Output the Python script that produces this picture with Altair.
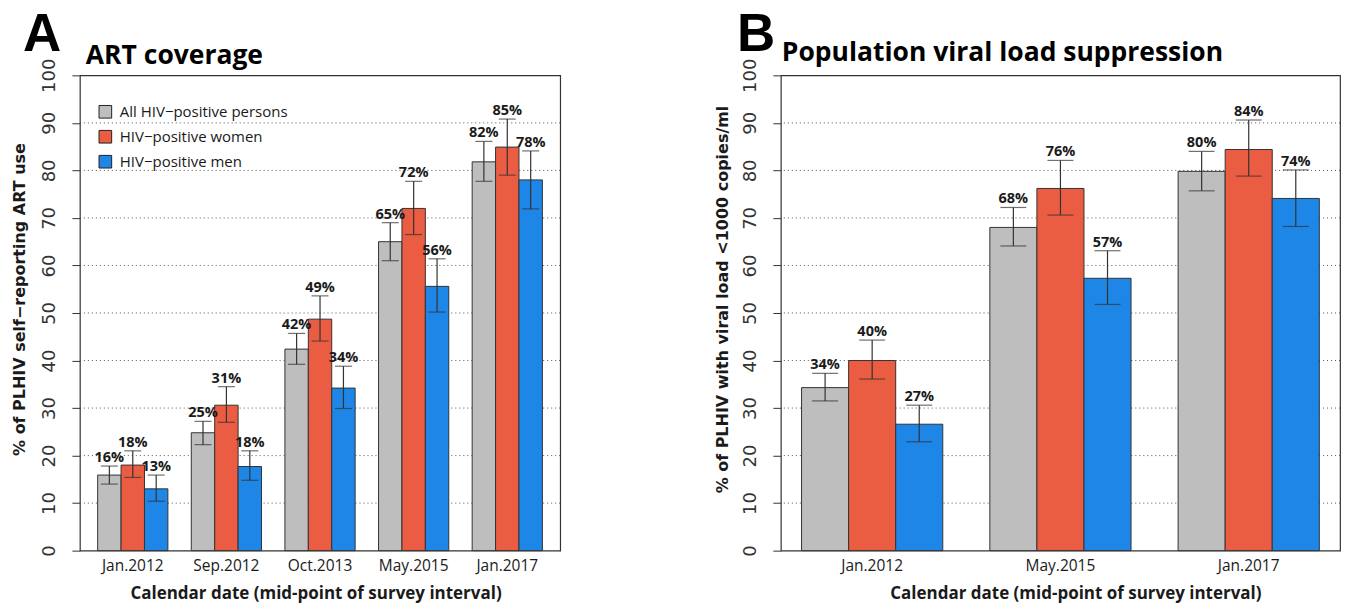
import altair as alt
import pandas as pd

SERIES = ["All HIV\u2212positive persons", "HIV\u2212positive women", "HIV\u2212positive men"]
COLORS = ["#bebebe", "#ea5d43", "#1e86e7"]
TICKS = list(range(0, 101, 10))
GRID = list(range(10, 100, 10))
XTITLE = "Calendar date (mid-point of survey interval)"

# Panel A: self-reported ART use among PLHIV
art_dates = ["Jan.2012", "Sep.2012", "Oct.2013", "May.2015", "Jan.2017"]
art_all = [15.9, 24.8, 42.4, 65.0, 81.8]
art_all_lo = [14.0, 22.3, 39.2, 61.0, 77.7]
art_all_hi = [17.8, 27.2, 45.7, 69.0, 86.1]
art_women = [18.0, 30.6, 48.7, 72.0, 84.9]
art_women_lo = [15.4, 27.0, 44.1, 66.5, 79.0]
art_women_hi = [21.0, 34.5, 53.6, 77.7, 90.8]
art_men = [13.0, 17.7, 34.2, 55.6, 78.0]
art_men_lo = [10.4, 14.8, 29.9, 50.2, 71.9]
art_men_hi = [15.9, 21.0, 38.8, 61.4, 84.1]

# Panel B: population viral load suppression
vl_dates = ["Jan.2012", "May.2015", "Jan.2017"]
vl_all = [34.3, 68.0, 79.8]
vl_all_lo = [31.5, 64.1, 75.7]
vl_all_hi = [37.3, 72.2, 84.0]
vl_women = [40.0, 76.2, 84.4]
vl_women_lo = [36.1, 70.6, 78.8]
vl_women_hi = [44.3, 82.1, 90.6]
vl_men = [26.6, 57.3, 74.1]
vl_men_lo = [22.9, 51.8, 68.2]
vl_men_hi = [30.6, 63.1, 80.1]


def frame(dates, groups):
    rows = []
    for name, (vals, lo, hi) in zip(SERIES, groups):
        for d, v, l, h in zip(dates, vals, lo, hi):
            rows.append({"date": d, "series": name, "value": v, "lo": l, "hi": h,
                         "label": f"{v:.0f}%"})
    return pd.DataFrame(rows)


art_df = frame(art_dates, [(art_all, art_all_lo, art_all_hi),
                           (art_women, art_women_lo, art_women_hi),
                           (art_men, art_men_lo, art_men_hi)])
vl_df = frame(vl_dates, [(vl_all, vl_all_lo, vl_all_hi),
                         (vl_women, vl_women_lo, vl_women_hi),
                         (vl_men, vl_men_lo, vl_men_hi)])

TXT = "#1a1a1a"
LINE = "#333333"


def panel(df, dates, width, outer, cap, ytitle, ytitle_x, xtitle_x,
          letter, letter_x, heading, heading_x, heading_y, legend, corner):
    yscale = alt.Scale(domain=[0, 100], nice=False)
    yaxis = alt.Axis(values=TICKS, grid=False, domain=False, tickSize=8,
                     tickColor=LINE, tickWidth=1,
                     labelAngle=270, labelAlign="center", labelBaseline="bottom",
                     labelPadding=13, labelFont="DejaVu Sans", labelFontSize=18,
                     labelColor="#333333",
                     titleFont="DejaVu Sans", titleFontSize=16, titleFontWeight="bold",
                     titleColor=TXT, titleAngle=270, titleX=ytitle_x, titleY=224,
                     titleBaseline="middle", titleAlign="center")

    def Y(field):
        return alt.Y(field, scale=yscale, axis=yaxis, title=ytitle)

    x = alt.X("date:N", sort=dates, title=XTITLE,
              scale=alt.Scale(paddingInner=0.25, paddingOuter=outer),
              axis=alt.Axis(labelAngle=0, ticks=False, domain=False,
                            labelFont="Open Sans", labelFontSize=15.5, labelPadding=8,
                            labelColor=TXT, titleFont="Open Sans", titleFontSize=17,
                            titleFontWeight="bold", titleColor=TXT,
                            titleX=xtitle_x, titleY=48, titleBaseline="alphabetic"))
    xo = alt.XOffset("series:N", sort=SERIES,
                     scale=alt.Scale(domain=SERIES, paddingInner=0, paddingOuter=0))

    grid = alt.Chart(pd.DataFrame({"value": GRID})).mark_rule(
        strokeDash=[1, 3], color="#555555", strokeWidth=1
    ).encode(y=Y("value:Q"))

    base = alt.Chart(df)
    bars = base.mark_bar(stroke=LINE, strokeWidth=1).encode(
        x=x, xOffset=xo, y=Y("value:Q"),
        color=alt.Color("series:N", sort=SERIES,
                        scale=alt.Scale(domain=SERIES, range=COLORS), legend=legend),
    )
    whisk = base.mark_rule(color=LINE, strokeWidth=1.2).encode(
        x=x, xOffset=xo, y=Y("lo:Q"), y2="hi:Q")
    cap_lo = base.mark_tick(color=LINE, thickness=1.2, size=cap, orient="horizontal").encode(
        x=x, xOffset=xo, y=Y("lo:Q"))
    cap_hi = base.mark_tick(color=LINE, thickness=1.2, size=cap, orient="horizontal").encode(
        x=x, xOffset=xo, y=Y("hi:Q"))
    labels = base.mark_text(font="Open Sans", fontWeight="bold", fontSize=14.5, dy=-4,
                            baseline="alphabetic", color=TXT).encode(
        x=x, xOffset=xo, y=Y("hi:Q"), text="label:N")

    tag = alt.Chart(pd.DataFrame({"t": [letter]})).mark_text(
        font="Liberation Sans", fontSize=53, fontWeight="bold", align="left",
        baseline="alphabetic", color="#000000"
    ).encode(text="t:N", x=alt.value(letter_x), y=alt.value(-24))
    head = alt.Chart(pd.DataFrame({"t": [heading]})).mark_text(
        font="Open Sans", fontSize=26.5, fontWeight="bold", align="left",
        baseline="alphabetic", color="#000000"
    ).encode(text="t:N", x=alt.value(heading_x), y=alt.value(heading_y))

    # invisible corner that pins the page extent
    cx, cy = corner
    pin = alt.Chart(pd.DataFrame({"a": [0]})).mark_rect(opacity=0).encode(
        x=alt.value(cx), x2=alt.value(cx + 1), y=alt.value(cy), y2=alt.value(cy + 1))

    return alt.layer(grid, bars, whisk, cap_lo, cap_hi, labels, tag, head, pin).properties(
        width=width, height=476)


legend_a = alt.Legend(orient="none", legendX=18, legendY=29, title=None,
                      symbolType="square", symbolSize=160, symbolStrokeColor="#222222",
                      symbolStrokeWidth=1, labelFont="Open Sans", labelFontSize=15,
                      labelColor=TXT, labelLimit=0, rowPadding=8, labelOffset=7,
                      padding=0, direction="vertical")

panel_a = panel(art_df, art_dates, 481, 0.19, 17,
                "% of PLHIV self\u2212reporting ART use", -60, 236,
                "A", -57, "ART coverage", 6, -11, legend_a, (-79, -74))
panel_b = panel(vl_df, vl_dates, 560, 0.11, 26,
                "% of PLHIV with viral load <1000 copies/ml", -58, 295,
                "B", -44, "Population viral load suppression", 1, -14, None, (576, 533))

chart = alt.hconcat(panel_a, panel_b, spacing=221, bounds="flush").resolve_scale(
    color="independent", x="independent", y="independent", xOffset="independent"
).resolve_legend(color="independent").properties(
    padding=0, background="white"
).configure_view(stroke=LINE, strokeWidth=1.2)

chart.save("out.html", embed_options={"renderer": "svg", "actions": False})
